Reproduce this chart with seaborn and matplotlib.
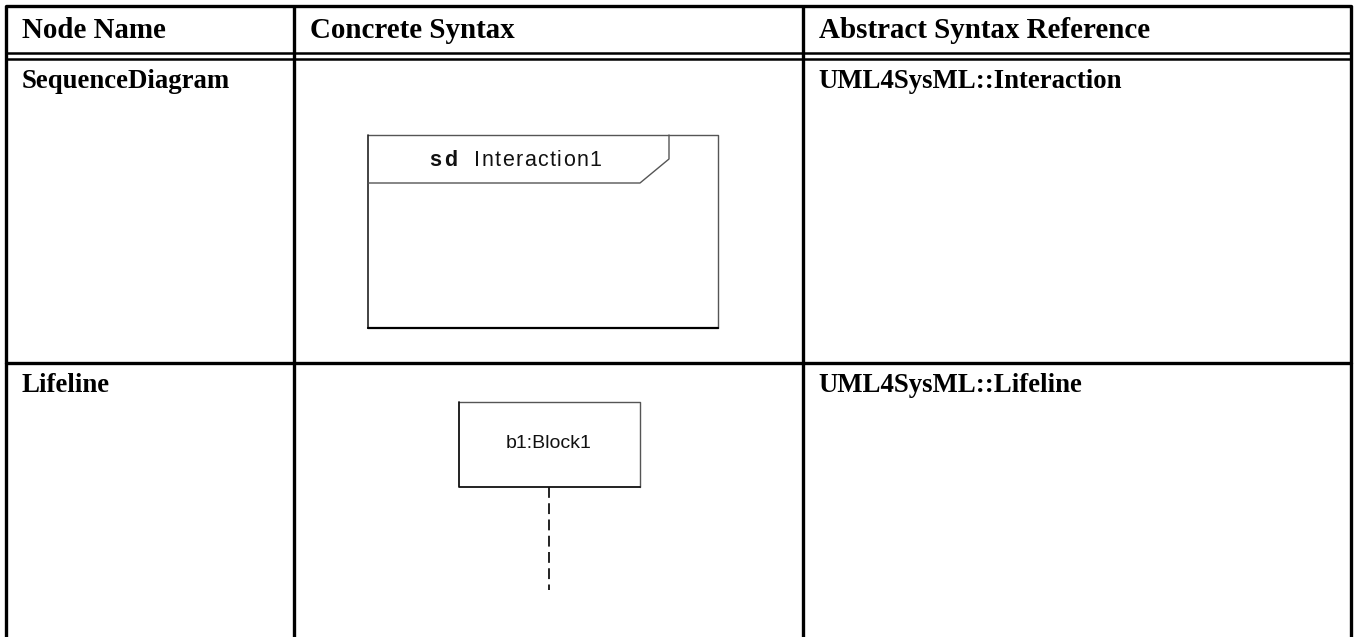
import matplotlib
matplotlib.use("Agg")
import matplotlib.pyplot as plt
import seaborn as sns

# table content
headers = ["Node Name", "Concrete Syntax", "Abstract Syntax Reference"]
node_names = ["SequenceDiagram", "Lifeline"]
references = ["UML4SysML::Interaction", "UML4SysML::Lifeline"]
frame_kind = "sd"
frame_name = "Interaction1"
lifeline_label = "b1:Block1"

# layout in pixels
W, H = 1356, 637
col_x = [6, 294, 803, 1351]
top_y = 6
header_lines = [53, 59]
row_y = [59, 363]

sns.set_theme(style="white")
plt.rcParams["font.family"] = ["Liberation Serif", "DejaVu Serif"]

fig = plt.figure(figsize=(W / 100, H / 100), dpi=100)
ax = fig.add_axes([0, 0, 1, 1])
ax.set_xlim(0, W)
ax.set_ylim(H, 0)
ax.axis("off")
renderer = fig.canvas.get_renderer()


def spaced_text(x, y, s, track, **kw):
    # draw text one char at a time with extra letter spacing (px)
    for ch in s:
        t = ax.text(x, y, ch, ha="left", **kw)
        w = t.get_window_extent(renderer).width
        if ch == " ":
            w = kw.get("fontsize", 12) * 0.28 * 100 / 72
        x += w + track


lw = 2.4
# outer and column lines
for x in col_x:
    ax.plot([x, x], [top_y, H], color="black", lw=lw, solid_capstyle="butt")
ax.plot([col_x[0], col_x[-1]], [top_y, top_y], color="black", lw=lw)
for y in header_lines:
    ax.plot([col_x[0], col_x[-1]], [y, y], color="black", lw=1.8)
ax.plot([col_x[0], col_x[-1]], [row_y[1], row_y[1]], color="black", lw=lw)

for i, h in enumerate(headers):
    ax.text(col_x[i] + 16, 37.5, h, fontsize=20.9, fontweight="bold",
            color="black", va="baseline", ha="left")
for i, (n, r) in enumerate(zip(node_names, references)):
    base = row_y[i] + 29
    ax.text(col_x[0] + 16, base, n, fontsize=19.3, fontweight="bold",
            color="black", va="baseline", ha="left")
    ax.text(col_x[2] + 15, base, r, fontsize=19.3, fontweight="bold",
            color="black", va="baseline", ha="left")

sans = ["Liberation Sans", "DejaVu Sans"]
gray = "#555555"

# sequence diagram frame
fx0, fy0, fx1, fy1 = 368, 135, 718, 328
ax.plot([fx0, fx1, fx1], [fy0, fy0, fy1], color=gray, lw=1.0)
ax.plot([fx0, fx0], [fy0, fy1], color="#222222", lw=1.2)
ax.plot([fx0, fx1], [fy1, fy1], color="black", lw=1.6)
ax.plot([fx0, 640, 669, 669], [183, 183, 159, fy0], color=gray, lw=1.0)
spaced_text(429, 160, frame_kind, 3.0, family=sans, fontsize=15.5,
            fontweight="bold", va="center", color="#111111")
spaced_text(474, 160, frame_name, 1.4, family=sans, fontsize=15.5,
            va="center", color="#111111")

# lifeline
bx0, by0, bx1, by1 = 459, 402, 640, 487
ax.plot([bx0, bx1, bx1], [by0, by0, by1], color=gray, lw=1.0)
ax.plot([bx0, bx0, bx1], [by0, by1, by1], color="#111111", lw=1.3)
ax.text((bx0 + bx1) / 2 - 1, 444, lifeline_label, family=sans, fontsize=14,
        va="center", ha="center", color="#111111")
ax.plot([549, 549], [by1, 590], color="#111111", lw=1.3, linestyle=(0, (6, 3)))

fig.savefig("out.png", dpi=100)
